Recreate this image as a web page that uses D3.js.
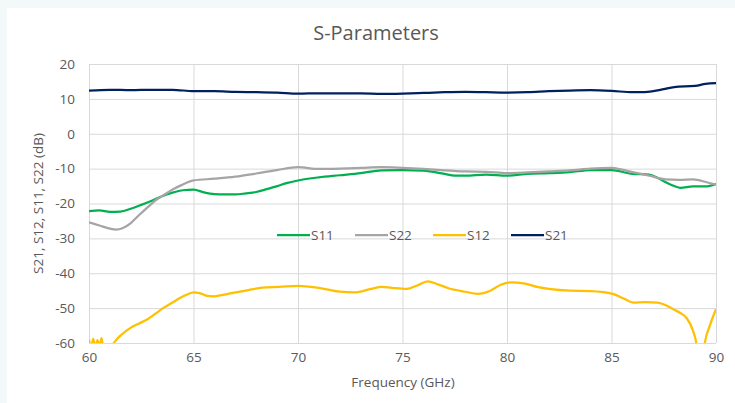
<!DOCTYPE html>
<html><head><meta charset="utf-8">
<script src="https://cdn.jsdelivr.net/npm/d3@7"></script>
<style>
html,body{margin:0;padding:0;background:#f3f8f9;}
svg{display:block;}
</style></head>
<body>
<svg id="chart" width="735" height="403"></svg>
<script>
const title = "S-Parameters";
const xLabel = "Frequency (GHz)";
const yLabel = "S21, S12, S11, S22 (dB)";
const xTicks = [60, 65, 70, 75, 80, 85, 90];
const yTicks = [20, 10, 0, -10, -20, -30, -40, -50, -60];
const seriesNames = ["S11", "S22", "S12", "S21"];
const seriesColors = ["#00b050", "#a5a5a5", "#ffc000", "#002060"];

const s11Freq = [60,60.5,61,61.5,62,62.5,63,63.5,64,64.5,65,65.5,66,66.5,67,67.5,68,68.5,69,69.5,70,71,72,73,74,75,76,77,77.5,78,79,80,81,82,83,84,85,86,86.8,87.2,87.6,88,88.3,88.9,89.5,90];
const s11Vals = [-22.2,-22.0,-22.4,-22.3,-21.5,-20.4,-19.2,-17.9,-16.9,-16.2,-16.0,-16.8,-17.3,-17.4,-17.4,-17.1,-16.7,-15.9,-15.0,-14.1,-13.4,-12.5,-11.9,-11.3,-10.5,-10.4,-10.6,-11.5,-12.0,-12.0,-11.7,-12.0,-11.5,-11.3,-11.0,-10.4,-10.4,-11.5,-11.7,-12.6,-13.9,-15.0,-15.5,-15.1,-15.1,-14.4];

const s22Freq = [60,60.5,61,61.3,61.6,62,62.4,62.8,63.2,63.6,64,64.4,65,66,67,68,69,70,71,72,73,74,75,76,77,78,79,80,81,82,83,84,85,85.5,86,86.8,87.6,88.25,88.9,89.55,90];
const s22Vals = [-25.4,-26.3,-27.2,-27.5,-27.1,-25.6,-23.3,-21.1,-19.0,-17.5,-16.0,-14.8,-13.4,-12.9,-12.3,-11.4,-10.4,-9.6,-10.1,-10.0,-9.8,-9.6,-9.8,-10.1,-10.5,-10.8,-10.9,-11.3,-11.1,-10.8,-10.5,-10.0,-9.8,-10.3,-11.0,-12.0,-13.1,-13.2,-13.1,-13.9,-14.6];

const s12Freq = [60,60.1,60.2,60.3,60.4,60.5,60.6,60.7,60.85,61.0,61.2,61.35,61.5,61.7,62,62.4,62.8,63.2,63.6,64,64.35,64.7,65,65.3,65.6,65.95,66.4,66.75,67.5,68.3,69.1,70,71,72,72.7,73.5,74,74.5,75.2,75.7,76.2,76.7,77.2,78,78.6,79.2,79.7,80.2,80.8,81.5,82,83,84,84.6,85.1,85.6,86.05,86.6,87.2,87.6,87.95,88.3,88.6,88.9,89.07,89.2,89.35,89.47,89.7,90];
const s12Vals = [-59.0,-61.5,-58.8,-61.5,-59.2,-61.0,-58.6,-62.0,-60.3,-61.0,-59.9,-58.8,-57.9,-56.9,-55.6,-54.4,-53.2,-51.5,-49.8,-48.4,-47.1,-46.1,-45.5,-45.7,-46.4,-46.6,-46.2,-45.8,-45.0,-44.1,-43.9,-43.6,-44.2,-45.3,-45.5,-44.5,-43.9,-44.2,-44.5,-43.5,-42.3,-43.2,-44.3,-45.3,-45.9,-45.0,-43.3,-42.6,-42.9,-44.0,-44.5,-45.0,-45.1,-45.4,-46.0,-47.3,-48.4,-48.3,-48.4,-49.2,-50.3,-51.4,-52.9,-56.5,-60.5,-68.0,-66.0,-59.9,-55.1,-50.3];

const s21Freq = [60,61,62,63,64,65,66,67,68,69,70,71,72,73,74,75,76,77,78,79,80,81,82,83,84,85,86,86.5,87,87.5,88,89,89.5,90];
const s21Vals = [12.4,12.6,12.5,12.6,12.6,12.2,12.2,12.0,11.9,11.8,11.5,11.6,11.6,11.6,11.4,11.5,11.7,11.9,12.0,11.9,11.8,11.9,12.2,12.4,12.5,12.3,11.9,11.9,12.2,12.8,13.4,13.7,14.3,14.5];

const series = [
  {name: "S11", f: s11Freq, v: s11Vals},
  {name: "S22", f: s22Freq, v: s22Vals},
  {name: "S12", f: s12Freq, v: s12Vals},
  {name: "S21", f: s21Freq, v: s21Vals}
];

const svg = d3.select("#chart");
const font = "'Open Sans', 'Liberation Sans', sans-serif";
const textColor = "#595959";
const gridColor = "#d9d9d9";
const labelSize = "13.5px";

svg.append("rect").attr("x", 7).attr("y", 8).attr("width", 728).attr("height", 395).attr("fill", "#ffffff");

const pLeft = 89, pRight = 716, pTop = 64, pBottom = 343;
const x = d3.scaleLinear().domain([60, 90]).range([pLeft, pRight]);
const y = d3.scaleLinear().domain([-60, 20]).range([pBottom, pTop]);

const gx = svg.append("g").attr("transform", `translate(0,${pBottom})`)
  .call(d3.axisBottom(x).tickValues(xTicks).tickSize(-(pBottom - pTop)).tickFormat(d => d).tickPadding(9));
gx.select(".domain").remove();
gx.selectAll(".tick line").attr("stroke", gridColor).attr("stroke-width", 1);
gx.selectAll(".tick text").attr("fill", textColor).style("font-family", font).style("font-size", labelSize);

const gy = svg.append("g").attr("transform", `translate(${pLeft},0)`)
  .call(d3.axisLeft(y).tickValues(yTicks).tickSize(-(pRight - pLeft)).tickFormat(d => d).tickPadding(14));
gy.select(".domain").remove();
gy.selectAll(".tick line").attr("stroke", gridColor).attr("stroke-width", 1);
gy.selectAll(".tick text").attr("fill", textColor).style("font-family", font).style("font-size", labelSize);

svg.append("clipPath").attr("id", "clip").append("rect")
  .attr("x", pLeft).attr("y", pTop).attr("width", pRight - pLeft).attr("height", pBottom - pTop);

const line = d3.line().x(d => x(d[0])).y(d => y(d[1])).curve(d3.curveMonotoneX);
const lines = svg.append("g").attr("clip-path", "url(#clip)");
series.forEach((s, i) => {
  const pts = s.f.map((f, j) => [f, s.v[j]]);
  lines.append("path").datum(pts)
    .attr("fill", "none")
    .attr("stroke", seriesColors[i])
    .attr("stroke-width", 2.25)
    .attr("stroke-linejoin", "round")
    .attr("d", line);
});

const legendX = [277, 355, 433, 511];
const legendY = 235;
seriesNames.forEach((n, i) => {
  const g = svg.append("g");
  g.append("line").attr("x1", legendX[i]).attr("x2", legendX[i] + 33)
    .attr("y1", legendY).attr("y2", legendY)
    .attr("stroke", seriesColors[i]).attr("stroke-width", 2.25);
  g.append("text").attr("x", legendX[i] + 34).attr("y", legendY + 4.5)
    .attr("fill", textColor).style("font-family", font).style("font-size", labelSize).text(n);
});

svg.append("text").attr("x", 376).attr("y", 40).attr("text-anchor", "middle")
  .attr("fill", textColor).style("font-family", font).style("font-size", "20px").text(title);

svg.append("text").attr("x", 403).attr("y", 387).attr("text-anchor", "middle")
  .attr("fill", textColor).style("font-family", font).style("font-size", labelSize).text(xLabel);
svg.append("text").attr("transform", `translate(43,${(pTop + pBottom) / 2}) rotate(-90)`)
  .attr("text-anchor", "middle")
  .attr("fill", textColor).style("font-family", font).style("font-size", labelSize).text(yLabel);
</script>
</body></html>
